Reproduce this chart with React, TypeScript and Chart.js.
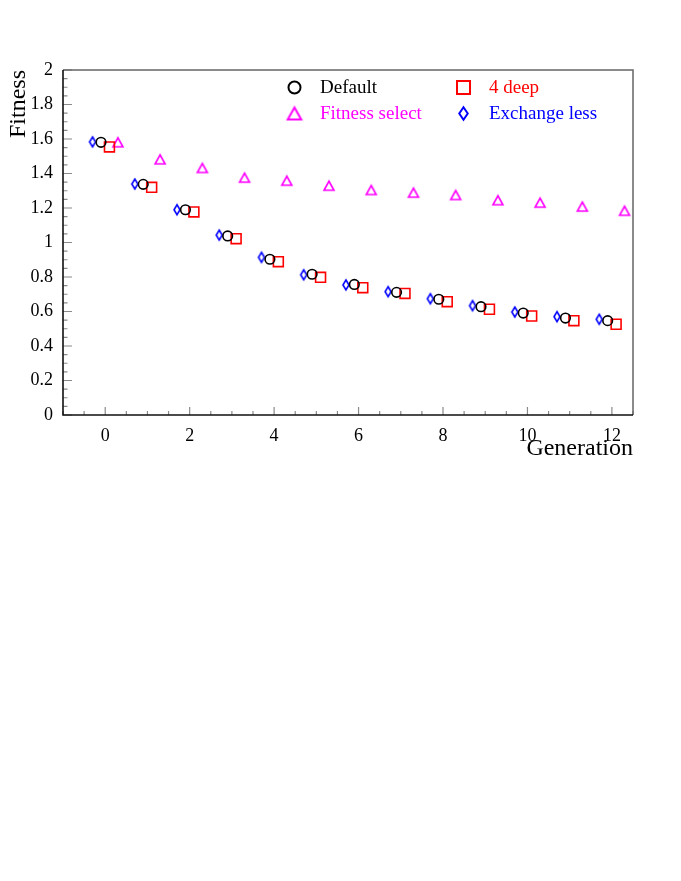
import React, { useEffect, useRef } from "react";
import { Chart, registerables } from "chart.js";

Chart.register(...registerables);

// ---- data ----
const generations = [0, 1, 2, 3, 4, 5, 6, 7, 8, 9, 10, 11, 12];
const defaultFitness = [1.581, 1.337, 1.19, 1.038, 0.903, 0.816, 0.757, 0.711, 0.671, 0.628, 0.591, 0.562, 0.547];
const deep4Fitness = [1.554, 1.32, 1.177, 1.022, 0.889, 0.798, 0.738, 0.705, 0.657, 0.613, 0.574, 0.547, 0.526];
const fitnessSelect = [1.581, 1.482, 1.432, 1.376, 1.358, 1.329, 1.304, 1.289, 1.275, 1.245, 1.231, 1.208, 1.184];
const exchangeLess = [1.583, 1.339, 1.19, 1.043, 0.914, 0.813, 0.754, 0.715, 0.674, 0.634, 0.597, 0.57, 0.555];
const seriesLabels = ["Default", "4 deep", "Fitness select", "Exchange less"];
const seriesOffsets = [-0.1, 0.1, 0.3, -0.3];
const seriesColors = ["#000000", "#ff0000", "#ff00ff", "#0000ff"];
const yTickLabels = ["0", "0.2", "0.4", "0.6", "0.8", "1", "1.2", "1.4", "1.6", "1.8", "2"];

const FONT = "'Liberation Serif', 'Times New Roman', serif";

function makeMarker(kind: string, w: number, h: number, color: string, lw: number) {
  const c = document.createElement("canvas");
  const pad = Math.ceil(lw) + 1;
  c.width = Math.round(w + 2 * pad);
  c.height = Math.round(h + 2 * pad);
  const ctx = c.getContext("2d")!;
  ctx.strokeStyle = color;
  ctx.lineWidth = lw;
  ctx.lineJoin = "miter";
  const cx = c.width / 2;
  const cy = c.height / 2;
  ctx.beginPath();
  if (kind === "triangle") {
    ctx.moveTo(cx, cy - h / 2);
    ctx.lineTo(cx + w / 2, cy + h / 2);
    ctx.lineTo(cx - w / 2, cy + h / 2);
  } else {
    ctx.moveTo(cx, cy - h / 2);
    ctx.lineTo(cx + w / 2, cy);
    ctx.lineTo(cx, cy + h / 2);
    ctx.lineTo(cx - w / 2, cy);
  }
  ctx.closePath();
  ctx.stroke();
  return c;
}

const framePlugin = {
  id: "rootFrame",
  beforeDatasetsDraw(chart: any) {
    const { ctx, chartArea } = chart;
    const { left, right, top, bottom } = chartArea;
    const xs = chart.scales.x;
    const ys = chart.scales.y;
    ctx.save();
    // ticks
    ctx.strokeStyle = "#8a8a8a";
    ctx.lineWidth = 1.2;
    ctx.beginPath();
    for (let i = 0; i <= 27; i++) {
      const v = -1 + i * 0.5;
      const px = xs.getPixelForValue(v);
      const major = Math.abs(v % 2) < 1e-9;
      const len = major ? 8 : 4;
      ctx.moveTo(px, bottom);
      ctx.lineTo(px, bottom - len);
    }
    for (let i = 0; i <= 40; i++) {
      const v = i * 0.05;
      const py = ys.getPixelForValue(v);
      const len = i % 4 === 0 ? 9 : 4.5;
      ctx.moveTo(left, py);
      ctx.lineTo(left + len, py);
    }
    ctx.stroke();
    // frame
    ctx.strokeStyle = "#666666";
    ctx.lineWidth = 1.5;
    ctx.beginPath();
    ctx.moveTo(left, top);
    ctx.lineTo(right, top);
    ctx.lineTo(right, bottom);
    ctx.stroke();
    ctx.strokeStyle = "#111111";
    ctx.lineWidth = 1.6;
    ctx.beginPath();
    ctx.moveTo(left, top);
    ctx.lineTo(left, bottom);
    ctx.lineTo(right, bottom);
    ctx.stroke();
    ctx.restore();
  },
};

const legendPlugin = {
  id: "rootLegend",
  afterDraw(chart: any, _args: any, opts: any) {
    const { ctx } = chart;
    const cells = opts.cells as { x: number; y: number }[];
    const markers = opts.markers as any[];
    ctx.save();
    chart.data.datasets.forEach((ds: any, i: number) => {
      const cell = cells[i];
      const mx = cell.x;
      const my = cell.y;
      const color = ds.borderColor;
      ctx.strokeStyle = color;
      ctx.lineWidth = 2;
      const m = markers[i];
      if (m === "circle") {
        ctx.beginPath();
        ctx.arc(mx, my, 6, 0, Math.PI * 2);
        ctx.stroke();
      } else if (m === "rect") {
        ctx.strokeRect(mx - 6.5, my - 6.5, 13, 13);
      } else {
        ctx.drawImage(m, mx - m.width / 2, my - m.height / 2);
      }
      ctx.fillStyle = color;
      ctx.font = `19px ${FONT}`;
      ctx.textAlign = "left";
      ctx.textBaseline = "middle";
      ctx.fillText(ds.label, mx + 25.5, my + 0.5);
    });
    ctx.restore();
  },
};

export default function App() {
  const ref = useRef<HTMLCanvasElement | null>(null);

  useEffect(() => {
    document.body.style.margin = "0";
    const canvas = ref.current!;
    const triData = makeMarker("triangle", 10, 9, seriesColors[2], 1.6);
    const diaData = makeMarker("diamond", 6, 10, seriesColors[3], 1.6);
    const triLeg = makeMarker("triangle", 13.5, 12, seriesColors[2], 2);
    const diaLeg = makeMarker("diamond", 8.5, 12.5, seriesColors[3], 2);

    const allValues = [defaultFitness, deep4Fitness, fitnessSelect, exchangeLess];
    const styles: any[] = ["circle", "rect", triData, diaData];
    const radii = [4.8, 7, 6, 6];

    const datasets = allValues.map((vals, s) => ({
      label: seriesLabels[s],
      data: generations.map((g, i) => ({ x: g + seriesOffsets[s], y: vals[i] })),
      showLine: false,
      pointStyle: styles[s],
      pointRadius: radii[s],
      pointBorderWidth: 1.6,
      borderColor: seriesColors[s],
      backgroundColor: "rgba(0,0,0,0)",
      pointBackgroundColor: "rgba(0,0,0,0)",
    }));

    const chart = new Chart(canvas, {
      type: "scatter",
      data: { datasets },
      plugins: [framePlugin, legendPlugin],
      options: {
        animation: false,
        responsive: false,
        maintainAspectRatio: false,
        layout: { padding: { left: 0, top: 70, right: 48, bottom: 415 } },
        plugins: {
          legend: { display: false },
          tooltip: { enabled: false },
          rootLegend: {
            cells: [
              { x: 294.5, y: 87.5 },
              { x: 463.5, y: 87.5 },
              { x: 294.5, y: 113.5 },
              { x: 463.5, y: 113.5 },
            ],
            markers: ["circle", "rect", triLeg, diaLeg],
          },
        } as any,
        scales: {
          x: {
            type: "linear",
            min: -1,
            max: 12.5,
            grid: { display: false, drawTicks: false },
            border: { display: false },
            ticks: {
              stepSize: 2,
              includeBounds: false,
              padding: 10,
              maxRotation: 0,
              color: "#000",
              font: { family: FONT, size: 18 },
              callback: (v: any) => String(v),
            },
            title: {
              display: true,
              text: "Generation",
              align: "end",
              color: "#000",
              font: { family: FONT, size: 24 },
              padding: { top: 0, bottom: 3 },
            },
            afterFit: (s: any) => {
              s.height = 51;
            },
          },
          y: {
            type: "linear",
            min: 0,
            max: 2,
            grid: { display: false, drawTicks: false },
            border: { display: false },
            ticks: {
              stepSize: 0.2,
              padding: 10,
              color: "#000",
              font: { family: FONT, size: 18 },
              callback: (v: any) => {
                const idx = Math.round(Number(v) / 0.2);
                return yTickLabels[idx] ?? "";
              },
            },
            title: {
              display: true,
              text: "Fitness",
              align: "end",
              color: "#000",
              font: { family: FONT, size: 24 },
              padding: { top: 4, bottom: 0 },
            },
            afterFit: (s: any) => {
              s.width = 63;
            },
          },
        },
      } as any,
    });
    return () => chart.destroy();
  }, []);

  return <canvas ref={ref} width={681} height={881} style={{ display: "block" }} />;
}
